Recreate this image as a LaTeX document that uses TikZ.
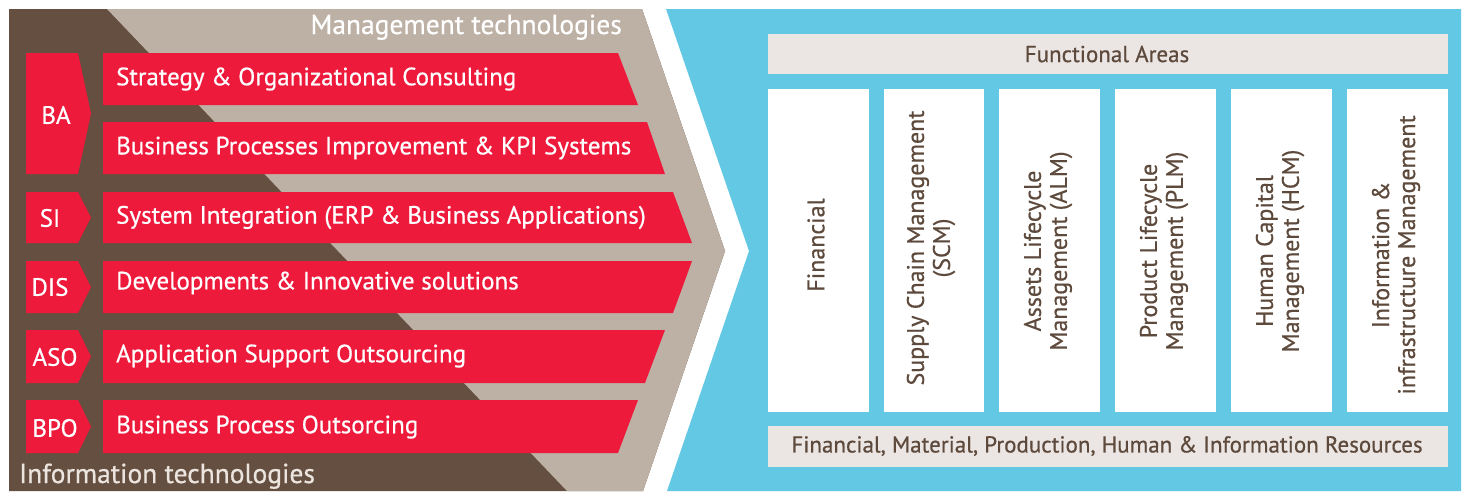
\documentclass[tikz,border=0pt]{standalone}
\usepackage{fontspec}
\setmainfont[FakeBold=0.6]{PT Sans}
\definecolor{brownbg}{RGB}{101,79,64}
\definecolor{beige}{RGB}{189,176,165}
\definecolor{redbar}{RGB}{237,26,59}
\definecolor{bluebg}{RGB}{98,200,227}
\definecolor{lightbox}{RGB}{235,230,227}
\definecolor{textbrown}{RGB}{94,74,60}
\definecolor{lighttext}{RGB}{236,228,222}
\tikzset{
  bartext/.style={text=white, font=\fontsize{25}{29}\selectfont, anchor=west, inner sep=0pt},
  abbrtext/.style={text=white, font=\fontsize{25}{29}\selectfont, inner sep=0pt},
  titletext/.style={font=\fontsize{27.5}{31}\selectfont, inner sep=0pt},
  coltext/.style={text=textbrown, rotate=90, align=center, font=\fontsize{24}{26}\selectfont, inner sep=0pt},
  boxtext/.style={text=textbrown, font=\fontsize{23}{27}\selectfont, inner sep=0pt},
  colbox/.style={fill=white, draw=none},
  lbox/.style={fill=lightbox, draw=none}
}
\begin{document}
\begin{tikzpicture}[x=1pt,y=-1pt]
\useasboundingbox (0,0) rectangle (1462,491);
% left panel
\fill[brownbg] (9,9) -- (642,9) -- (725,251) -- (643,491) -- (9,491) -- cycle;
\fill[beige] (107,9) -- (642,9) -- (725,251) -- (643,491) -- (567,491) -- cycle;
% right panel
\fill[bluebg] (666,9) -- (1461,9) -- (1461,491) -- (667,491) -- (749,251) -- cycle;
% red bars
\fill[redbar] (103,53) -- (618,53) -- (638,105) -- (103,105) -- cycle;
\fill[redbar] (103,122) -- (647,122) -- (665,174) -- (103,174) -- cycle;
\fill[redbar] (103,192) -- (673,192) -- (692,243) -- (103,243) -- cycle;
\fill[redbar] (103,261) -- (692,261) -- (673,313) -- (103,313) -- cycle;
\fill[redbar] (103,330) -- (665,330) -- (645,383) -- (103,383) -- cycle;
\fill[redbar] (103,400) -- (638,400) -- (618,453) -- (103,453) -- cycle;
% abbreviation arrows
\fill[redbar] (26,53) -- (78,53) -- (91,113.5) -- (78,174) -- (26,174) -- cycle;
\fill[redbar] (26,192) -- (78,192) -- (91,217.5) -- (78,243) -- (26,243) -- cycle;
\fill[redbar] (26,261) -- (78,261) -- (91,287) -- (78,313) -- (26,313) -- cycle;
\fill[redbar] (26,330) -- (78,330) -- (91,356.5) -- (78,383) -- (26,383) -- cycle;
\fill[redbar] (26,400) -- (78,400) -- (91,426.5) -- (78,453) -- (26,453) -- cycle;
% texts left
\node[bartext] (t1) at (116,79) {Strategy \& Organizational Consulting};
\node[bartext] (t2) at (116,148) {Business Processes Improvement \& KPI Systems};
\node[bartext] (t3) at (116,217.5) {System Integration (ERP \& Business Applications)};
\node[bartext] (t4) at (116,283) {Developments \& Innovative solutions};
\node[bartext] (t5) at (116,356) {Application Support Outsourcing};
\node[bartext] (t6) at (116,427) {Business Process Outsorcing};
\node[abbrtext] (a1) at (56,115) {BA};
\node[abbrtext] (a2) at (50,218) {SI};
\node[abbrtext] (a3) at (50,287) {DIS};
\node[abbrtext] (a4) at (55,357) {ASO};
\node[abbrtext] (a5) at (55,428) {BPO};
\node[titletext, text=white, anchor=base east] (mt) at (622,34) {Management technologies};
\node[titletext, text=lighttext, anchor=base west] (it) at (19,483) {Information technologies};
% right panel boxes
\fill[lbox] (768,34) rectangle (1448,74);
\node[boxtext] (fa) at (1107,54) {Functional Areas};
\fill[lbox] (768,426) rectangle (1448,467);
\node[boxtext] (res) at (1107,446) {Financial, Material, Production, Human \& Information Resources};
\fill[colbox] (768,89) rectangle (869,412);
\fill[colbox] (884,89) rectangle (984,412);
\fill[colbox] (999,89) rectangle (1100,412);
\fill[colbox] (1115,89) rectangle (1216,412);
\fill[colbox] (1231,89) rectangle (1332,412);
\fill[colbox] (1347,89) rectangle (1448,412);
\node[coltext] (c1) at (816,245) {Financial};
\node[coltext] (c2) at (931,248) {Supply Chain Management\\(SCM)};
\node[coltext] (c3) at (1048,251) {Assets Lifecycle\\Management (ALM)};
\node[coltext] (c4) at (1164,251) {Product Lifecycle\\Management (PLM)};
\node[coltext] (c5) at (1280,251) {Human Capital\\Management (HCM)};
\node[coltext] (c6) at (1396,255) {Information \&\\infrastructure Management};
\end{tikzpicture}
\end{document}
